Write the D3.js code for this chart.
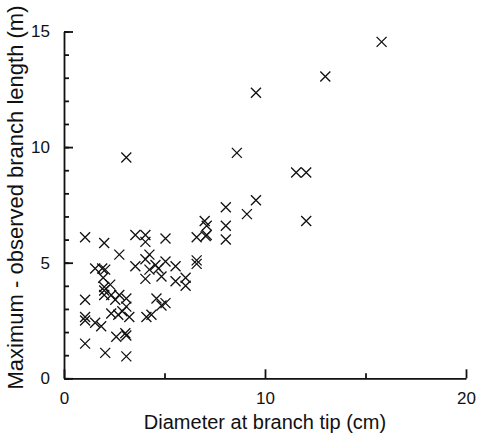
<!DOCTYPE html>
<html>
<head>
<meta charset="utf-8">
<script src="https://cdn.jsdelivr.net/npm/d3@7"></script>
<style>
  body { margin: 0; background: #fff; }
  svg { display: block; font-family: "Liberation Sans", Arial, Helvetica, sans-serif; }
</style>
</head>
<body>
<div id="chart"></div>
<script>
// branch tip diameter (cm) vs. maximum - observed branch length (m)
const diameter = [
  15.8, 13.0, 9.55, 3.1, 8.6, 9.55, 8.05, 9.1, 11.55, 12.05, 12.05,
  7.0, 7.1, 8.05, 7.1, 7.05, 8.05, 6.6, 1.05, 2.0, 3.55, 4.05, 4.05, 5.05,
  2.75, 4.25, 4.05, 1.55, 1.9, 2.05, 3.55, 4.55, 5.05, 4.7, 5.55, 6.6, 6.6,
  4.25, 1.95, 4.05, 4.85, 5.55, 6.05, 6.05, 2.0, 2.0, 2.3, 2.0, 2.35, 2.75,
  3.1, 2.55, 1.05, 3.1, 2.9, 2.35, 2.7, 3.25, 4.6, 4.85, 5.05, 4.1, 4.35,
  1.05, 1.05, 1.55, 1.85, 2.6, 3.05, 3.1, 1.05, 2.05, 3.1
]
const lengthDiff = [
  14.55, 13.05, 12.35, 9.55, 9.75, 7.7, 7.4, 7.1, 8.9, 8.9, 6.8,
  6.8, 6.6, 6.6, 6.2, 6.15, 6.0, 6.1, 6.1, 5.85, 6.2, 6.2, 5.9, 6.05,
  5.35, 5.35, 5.15, 4.75, 4.75, 4.7, 4.85, 4.9, 5.05, 4.75, 4.85, 5.1, 4.95,
  4.7, 4.35, 4.3, 4.4, 4.2, 4.35, 4.0, 3.95, 3.8, 4.05, 3.6, 3.6, 3.6,
  3.45, 3.4, 3.4, 3.1, 2.9, 2.8, 2.75, 2.65, 3.45, 3.15, 3.25, 2.65, 2.75,
  2.65, 2.5, 2.4, 2.25, 1.8, 1.95, 1.85, 1.5, 1.1, 0.95
]
const xTicks = [0, 10, 20]
const xMinorTicks = [5, 15]
const yTicks = [0, 5, 10, 15]
const yMinorTicks = d3.range(0, 16)

const width = 478
const height = 444
const margin = { top: 31.5, right: 12, bottom: 65.7, left: 64 }

const svg = d3.select("#chart")
  .append("svg")
  .attr("width", width)
  .attr("height", height)

const x = d3.scaleLinear()
  .domain([0, 20])
  .range([margin.left, width - margin.right])

const y = d3.scaleLinear()
  .domain([0, 15])
  .range([height - margin.bottom, margin.top])

const axisColor = "#111"

// x axis, ticks pointing up into the plot
const xAxis = svg.append("g")
  .attr("transform", `translate(0, ${y(0)})`)
  .call(d3.axisBottom(x).tickValues(xTicks).tickSize(-9).tickPadding(14).tickSizeOuter(0))
xAxis.append("g")
  .call(d3.axisBottom(x).tickValues(xMinorTicks).tickSize(-5).tickFormat(""))
  .select(".domain").remove()

// y axis, ticks pointing right into the plot
const yAxis = svg.append("g")
  .attr("transform", `translate(${x(0)}, 0)`)
  .call(d3.axisLeft(y).tickValues(yTicks).tickSize(-9).tickPadding(14).tickSizeOuter(0))
yAxis.append("g")
  .call(d3.axisLeft(y).tickValues(yMinorTicks).tickSize(-5).tickFormat(""))
  .select(".domain").remove()

svg.selectAll(".domain, .tick line")
  .attr("stroke", axisColor)
  .attr("stroke-width", 1.8)
svg.selectAll(".tick text")
  .attr("fill", axisColor)
  .style("font-size", "17px")

// axis titles
svg.append("text")
  .attr("x", x(10))
  .attr("y", 429)
  .attr("text-anchor", "middle")
  .style("font-size", "20px")
  .attr("fill", axisColor)
  .text("Diameter at branch tip (cm)")

svg.append("text")
  .attr("transform", `translate(23, 197.5) rotate(-90)`)
  .attr("text-anchor", "middle")
  .style("font-size", "22px")
  .attr("fill", axisColor)
  .text("Maximum - observed branch length (m)")

// cross markers
const r = 5
const points = diameter.map((d, i) => ({ d, l: lengthDiff[i] }))

svg.append("g")
  .selectAll("path")
  .data(points)
  .join("path")
  .attr("transform", p => `translate(${x(p.d)}, ${y(p.l)})`)
  .attr("d", `M${-r},${-r}L${r},${r}M${-r},${r}L${r},${-r}`)
  .attr("stroke", axisColor)
  .attr("stroke-width", 1.3)
  .attr("fill", "none")
</script>
</body>
</html>
